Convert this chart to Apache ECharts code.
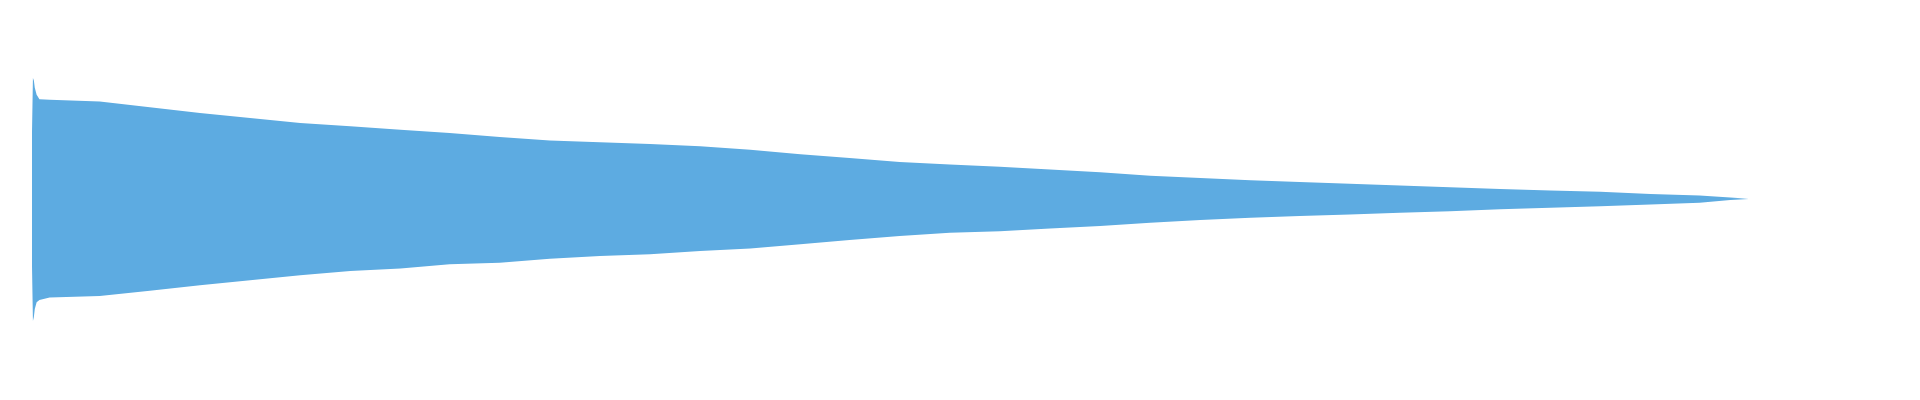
<!DOCTYPE html>
<html>
<head>
<meta charset="utf-8">
<script src="https://cdn.jsdelivr.net/npm/echarts@6/dist/echarts.min.js"></script>
<style>
  html, body { margin: 0; padding: 0; background: #fff; }
  #chart { width: 1920px; height: 400px; }
</style>
</head>
<body>
<div id="chart"></div>
<script>
// time (s) of each envelope reading
var times = [0, 0.001, 0.002, 0.003, 0.005, 0.008, 0.019, 0.073, 0.127, 0.181,
  0.235, 0.289, 0.343, 0.397, 0.450, 0.504, 0.558, 0.612, 0.666, 0.720,
  0.774, 0.828, 0.881, 0.935, 0.989, 1.043, 1.097, 1.151, 1.205, 1.259,
  1.313, 1.366, 1.420, 1.474, 1.528, 1.582, 1.636, 1.690, 1.744, 1.797,
  1.830, 1.850]
// peak amplitude per reading
var upper = [0.414, 0.757, 0.740, 0.695, 0.651, 0.624, 0.620, 0.609, 0.574, 0.537,
  0.506, 0.475, 0.454, 0.433, 0.412, 0.388, 0.366, 0.354, 0.344, 0.329,
  0.308, 0.279, 0.257, 0.232, 0.215, 0.201, 0.184, 0.167, 0.146, 0.131,
  0.117, 0.107, 0.095, 0.084, 0.074, 0.062, 0.053, 0.045, 0.032, 0.022,
  0.009, 0.001]
// trough amplitude per reading
var lower = [-0.421, -0.763, -0.738, -0.688, -0.645, -0.631, -0.616, -0.606, -0.574, -0.539,
  -0.508, -0.477, -0.450, -0.435, -0.408, -0.398, -0.373, -0.356, -0.346, -0.325,
  -0.310, -0.283, -0.257, -0.232, -0.211, -0.201, -0.184, -0.169, -0.148, -0.131,
  -0.117, -0.107, -0.097, -0.086, -0.076, -0.064, -0.055, -0.045, -0.034, -0.024,
  -0.007, 0]

var chart = echarts.init(document.getElementById('chart'))

var upperData = times.map(function (t, i) { return [t, upper[i]] })
var lowerData = times.map(function (t, i) { return [t, lower[i]] })

// both halves fill to zero; zero sits on a whole pixel so no seam shows
var half = function (data) {
  return {
    type: 'line',
    data: data,
    showSymbol: false,
    lineStyle: { width: 0 },
    areaStyle: { color: '#5DABE1', opacity: 1 }
  }
}

chart.setOption({
  animation: false,
  backgroundColor: '#fff',
  grid: { left: 32, right: 32, top: 39, bottom: 41 },
  xAxis: { type: 'value', min: 0, max: 2, show: false },
  yAxis: { type: 'value', min: -1, max: 1, show: false },
  series: [half(upperData), half(lowerData)]
})
</script>
</body>
</html>
